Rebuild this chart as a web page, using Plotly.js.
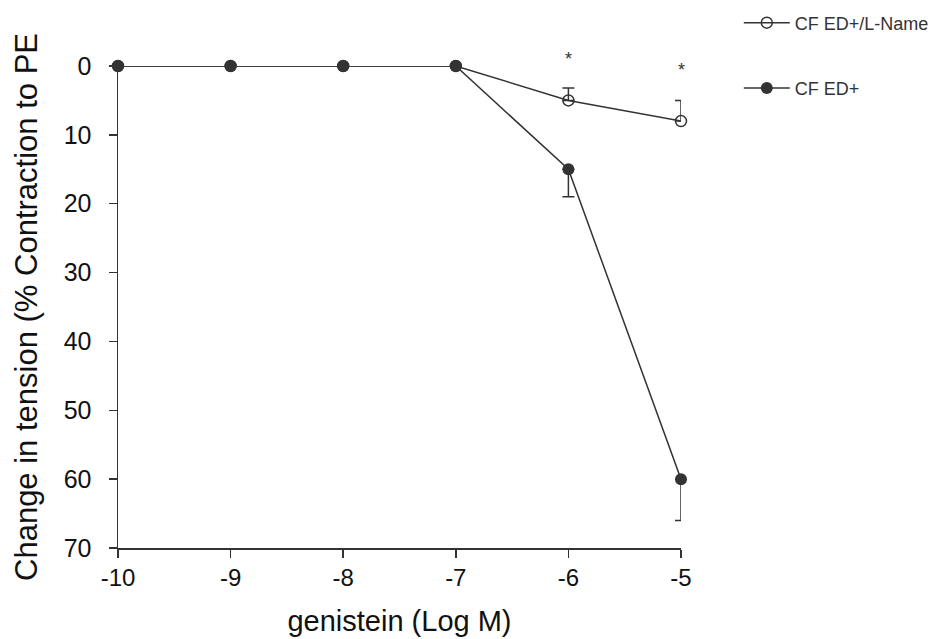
<!DOCTYPE html>
<html>
<head>
<meta charset="utf-8">
<script src="https://cdn.plot.ly/plotly-3.0.1.min.js"></script>
<style>html,body{margin:0;padding:0;background:#fff;}#chart{width:934px;height:639px;}</style>
</head>
<body>
<div id="chart"></div>
<script>
// Data
const logConc = [-10, -9, -8, -7, -6, -5];
const lnameValues = [0, 0, 0, 0, 5, 8];
const lnameErrMinus = [0, 0, 0, 0, 1.8, 3];
const edValues = [0, 0, 0, 0, 15, 60];
const edErrPlus = [0, 0, 0, 0, 4, 6];
const seriesNames = ['CF ED+/L-Name', 'CF ED+'];
const xTickVals = [-10, -9, -8, -7, -6, -5];
const xTickLabels = ['-10', '-9', '-8', '-7', '-6', '-5'];
const yTickVals = [0, 10, 20, 30, 40, 50, 60, 70];
const sigX = [-6, -5];
const sigText = ['*', '*'];

const ink = '#333333';
const FONT = 'Liberation Sans, Arial, sans-serif';
// vertical placement of the significance marks (layout, in y-domain units)
const sigPos = [1.0145, 0.9917];

const traces = [
  {
    x: logConc, y: lnameValues, name: seriesNames[0], type: 'scatter', mode: 'lines+markers',
    legendgroup: 'a',
    line: {color: ink, width: 1.5},
    marker: {symbol: 'circle-open', size: 11, color: ink, line: {width: 1.5, color: ink}},
    error_y: {type: 'data', symmetric: false, array: lnameValues.map(() => 0), arrayminus: lnameErrMinus,
              color: ink, thickness: 1.5, width: 6},
    cliponaxis: false
  },
  {
    x: logConc, y: edValues, name: seriesNames[1], type: 'scatter', mode: 'lines+markers',
    legendgroup: 'b',
    line: {color: ink, width: 1.5},
    marker: {symbol: 'circle', size: 12, color: ink},
    error_y: {type: 'data', symmetric: false, array: edErrPlus, arrayminus: edValues.map(() => 0),
              color: ink, thickness: 1.5, width: 6},
    cliponaxis: false
  }
];

const layout = {
  width: 934, height: 639,
  margin: {l: 118, r: 253, t: 66, b: 91, pad: 0},
  paper_bgcolor: '#ffffff', plot_bgcolor: '#ffffff',
  font: {family: FONT, color: ink},
  showlegend: true,
  legend: {
    xref: 'container', yref: 'container',
    x: 0.791, y: 0.993, xanchor: 'left', yanchor: 'top',
    font: {family: FONT, size: 18, color: ink},
    traceorder: 'grouped', tracegroupgap: 39,
    itemwidth: 46, bgcolor: 'rgba(0,0,0,0)'
  },
  xaxis: {
    range: [-10, -5], tickvals: xTickVals, ticktext: xTickLabels,
    showgrid: false, zeroline: false, showline: true, linecolor: ink, linewidth: 1.5,
    ticks: 'outside', ticklen: 8, tickwidth: 1.5, tickcolor: ink,
    tickfont: {family: FONT, size: 24, color: '#111'},
    title: {text: 'genistein (Log M)', font: {family: FONT, size: 29, color: '#111'}, standoff: 20},
    automargin: false
  },
  yaxis: {
    range: [70, 0], tickvals: yTickVals,
    showgrid: false, zeroline: false, showline: true, linecolor: ink, linewidth: 1.5,
    ticks: 'outside', ticklen: 8, tickwidth: 1.5, tickcolor: ink,
    ticklabelstandoff: 12,
    tickfont: {family: FONT, size: 25, color: '#111'},
    title: {text: 'Change in tension (% Contraction to PE', font: {family: FONT, size: 31, color: '#111'}, standoff: 17},
    automargin: false
  },
  annotations: sigX.map((sx, i) => ({
    x: sx, xref: 'x', y: sigPos[i], yref: 'y domain', text: sigText[i], showarrow: false,
    xanchor: 'center', yanchor: 'middle',
    font: {family: FONT, size: 18, color: ink}
  }))
};

Plotly.newPlot('chart', traces, layout, {displayModeBar: false, staticPlot: true});
</script>
</body>
</html>
